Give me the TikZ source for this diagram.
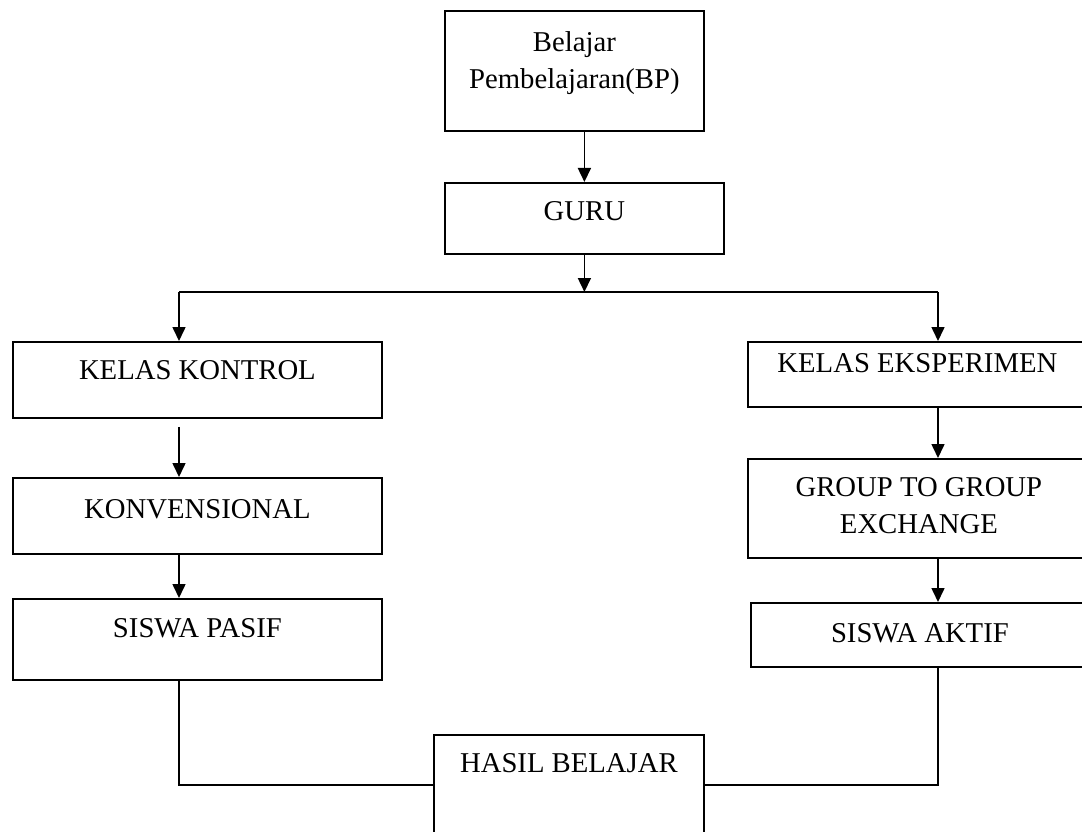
\documentclass[tikz,border=0pt]{standalone}
\usepackage{fontspec}
\setmainfont{Liberation Serif}
\usetikzlibrary{arrows.meta}

\begin{document}
\begin{tikzpicture}[x=1pt, y=-1pt, >={Triangle[length=14pt, width=13pt]},
  kotak/.style={draw, line width=1.8pt, anchor=north west, inner sep=0pt, align=center,
    font=\fontsize{28.7}{37}\selectfont},
  garis/.style={line width=1.6pt}]

\useasboundingbox (0,0) rectangle (1082,832);

\node[kotak, minimum width=259pt, text height=78pt, text depth=42pt] (bp) at (444,10) {Belajar\\Pembelajaran(BP)};
\node[kotak, minimum width=279pt, text height=38pt, text depth=33pt] (guru) at (444,182) {GURU};

\node[kotak, minimum width=369pt, text height=38pt, text depth=38pt] (kontrol) at (12,341) {KELAS KONTROL};
\node[kotak, minimum width=369pt, text height=41pt, text depth=35pt] (konvensional) at (12,477) {KONVENSIONAL};
\node[kotak, minimum width=369pt, text height=39pt, text depth=42pt] (pasif) at (12,598) {SISWA PASIF};

\node[kotak, minimum width=339pt, text height=31pt, text depth=34pt] (eksperimen) at (747,341) {KELAS EKSPERIMEN};
\node[kotak, minimum width=342pt, text height=75pt, text depth=24pt] (gtg) at (747,458) {GROUP TO GROUP\\EXCHANGE};
\node[kotak, minimum width=338pt, text height=40pt, text depth=24pt] (aktif) at (750,602) {SISWA AKTIF};

\node[kotak, minimum width=270pt, text height=38pt, text depth=62pt] (hasil) at (433,734) {HASIL BELAJAR};

\coordinate (kiri) at (179,292);
\coordinate (kanan) at (938,292);

\draw[garis, ->] (bp.south -| guru.north) -- (guru.north);
\draw[garis, ->] (guru.south) -- (guru.south |- kiri);
\draw[garis] (kiri) -- (kanan);
\draw[garis, ->] (kiri) -- (kiri |- kontrol.north);
\draw[garis, ->] (kanan) -- (kanan |- eksperimen.north);

\draw[garis, ->, shorten <=8pt] (kiri |- kontrol.south) -- (kiri |- konvensional.north);
\draw[garis, ->] (kiri |- konvensional.south) -- (kiri |- pasif.north);
\draw[garis, ->] (kanan |- eksperimen.south) -- (kanan |- gtg.north);
\draw[garis, ->] (kanan |- gtg.south) -- (kanan |- aktif.north);

\draw[garis] (kiri |- pasif.south) |- (hasil.west);
\draw[garis] (kanan |- aktif.south) |- (hasil.east);

\end{tikzpicture}
\end{document}
